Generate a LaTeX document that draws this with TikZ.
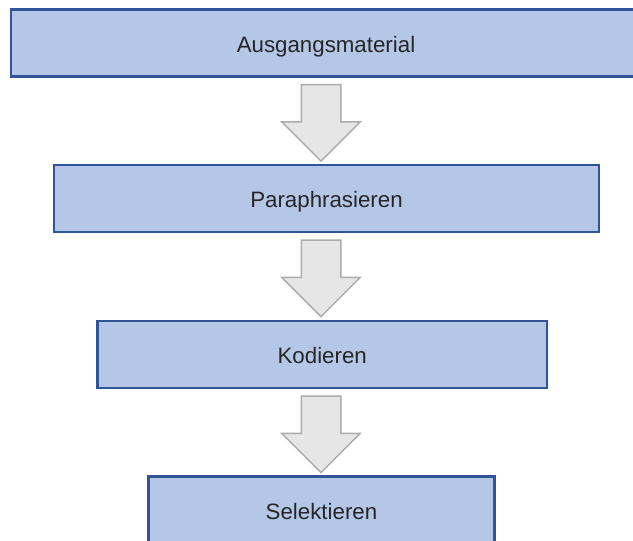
\documentclass[tikz,border=0pt]{standalone}
\usepackage{fontspec}
\setmainfont{Liberation Sans}
\usetikzlibrary{shapes.arrows,calc}
\definecolor{boxfill}{HTML}{B4C7E7}
\definecolor{boxline}{HTML}{2F5597}
\definecolor{arrowfill}{HTML}{E6E6E6}
\definecolor{arrowline}{HTML}{ABABAB}
\begin{document}
\begin{tikzpicture}[x=1pt,y=1pt,
  stage/.style={draw=boxline, fill=boxfill, line width=2.2pt,
    minimum height=67pt, inner sep=0pt, text height=18pt, text depth=0pt,
    font=\fontsize{22.3}{25}\selectfont, text=black!85},
  flowarrow/.style={single arrow, rotate=-90, anchor=tail, draw=arrowline, fill=arrowfill,
    line width=1.5pt, minimum height=76.6pt, minimum width=77pt,
    inner xsep=0pt, inner ysep=19pt, single arrow head extend=19.5pt}]
  \useasboundingbox (0,0) rectangle (633,-541);

  % process stages
  \node[stage, minimum width=630pt] (s1) at (326,-43) {Ausgangsmaterial};
  \node[stage, minimum width=545pt] (s2) at (326.5,-198.5) {Paraphrasieren};
  \node[stage, minimum width=449.5pt] (s3) at (322.25,-354.5) {Kodieren};
  \node[stage, minimum width=346pt] (s4) at (321.5,-510) {Selektieren};

  % block arrows hanging just below each stage
  \coordinate (axis) at (321,0);
  \node[flowarrow] (a1) at ($(axis |- s1.south)+(0,-6.2)$) {};
  \node[flowarrow] (a2) at ($(axis |- s2.south)+(0,-6.2)$) {};
  \node[flowarrow] (a3) at ($(axis |- s3.south)+(0,-6.2)$) {};
\end{tikzpicture}
\end{document}
